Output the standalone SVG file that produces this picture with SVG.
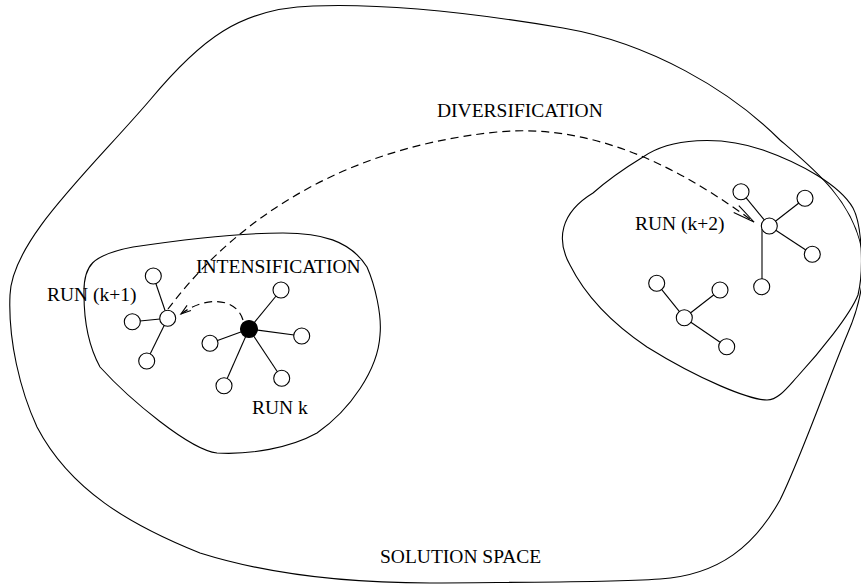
<svg xmlns="http://www.w3.org/2000/svg" width="861" height="584" viewBox="0 0 861 584">
  <style>
    .region { fill: none; stroke: #000; stroke-width: 1.1; }
    .edge { stroke: #000; stroke-width: 1.1; fill: none; }
    .jump { stroke: #000; stroke-width: 1.2; fill: none; stroke-dasharray: 8 5; }
    .pt { fill: #fff; stroke: #000; stroke-width: 1.1; }
    .pt.cur { fill: #000; }
    .lbl { font-family: "Liberation Serif", "Times New Roman", serif; font-size: 19.5px; fill: #000; }
  </style>
  <defs>
    <marker id="headSmall" viewBox="-12 -5 14 10" markerWidth="14" markerHeight="10" refX="0" refY="0" orient="auto" markerUnits="userSpaceOnUse" overflow="visible">
      <path d="M-10,-3.2 L0,0 L-10,3.2" fill="none" stroke="#000" stroke-width="1.1" stroke-dasharray="none"/>
    </marker>
    <marker id="headLarge" viewBox="-24 -6 26 12" markerWidth="26" markerHeight="12" refX="0" refY="0" orient="auto" markerUnits="userSpaceOnUse" overflow="visible">
      <path d="M-22,-4.3 L0,0 L-22,4.3" fill="none" stroke="#000" stroke-width="1.1" stroke-dasharray="none"/>
    </marker>
  </defs>
  <rect width="861" height="584" fill="#fff"/>

  <!-- search space boundary and neighbourhoods -->
  <g id="solution-space">
    <path class="region" d="M313,6 C390,3 480,14 563,28 C650,43 730,90 780,140 C815,170 852,200 862,250 C866,280 858,310 847,335 C830,375 800,460 780,500 C755,545 720,575 660,579 C600,583 500,582 430,583 C350,583 270,575 200,553 C130,525 70,490 37,427 C20,390 8,340 10,295 C12,240 90,170 150,100 C200,40 240,8 313,6 Z"/>
  </g>
  <g id="region-left">
    <path class="region" d="M84,295 C83,265 92,255 133,247 C180,240 240,233 283,233 C320,233 350,240 367,267 C375,285 382,315 380,335 C378,370 350,410 317,433 C290,448 250,455 217,453 C190,450 130,400 100,367 C88,345 84,320 84,295 Z"/>
  </g>
  <g id="region-right">
    <path class="region" d="M643,157 C670,138 720,135 763,150 C800,163 840,185 853,208 C862,225 864,270 858,295 C850,315 820,352 797,377 C787,388 778,400 767,400 C750,400 700,380 647,347 C610,322 585,295 570,265 C556,240 560,213 593,193 C610,178 625,168 643,157 Z"/>
  </g>

  <!-- tree edges and moves between runs -->
  <g id="connectors">
    <line class="edge" x1="167.7" y1="318.3" x2="153.3" y2="276"/>
    <line class="edge" x1="167.7" y1="318.3" x2="132.3" y2="321.7"/>
    <line class="edge" x1="167.7" y1="318.3" x2="146.7" y2="361"/>

    <line class="edge" x1="249" y1="329" x2="281" y2="290"/>
    <line class="edge" x1="249" y1="329" x2="301.7" y2="336"/>
    <line class="edge" x1="249" y1="329" x2="210" y2="343.3"/>
    <line class="edge" x1="249" y1="329" x2="224" y2="385.7"/>
    <line class="edge" x1="249" y1="329" x2="281.7" y2="378.3"/>

    <line class="edge" x1="769.3" y1="226" x2="741" y2="191.7"/>
    <line class="edge" x1="769.3" y1="226" x2="805" y2="198.3"/>
    <line class="edge" x1="769.3" y1="226" x2="812.3" y2="254.3"/>
    <line class="edge" x1="762" y1="229" x2="762" y2="279"/>

    <line class="edge" x1="684.3" y1="317.7" x2="656.7" y2="283.3"/>
    <line class="edge" x1="684.3" y1="317.7" x2="720" y2="290"/>
    <line class="edge" x1="684.3" y1="317.7" x2="726.7" y2="346.7"/>

    <path class="jump" d="M168,309 C220,240 320,150 497,132 C600,122 690,175 754,222" marker-end="url(#headLarge)"/>
    <path class="jump" d="M243,320 C236,297 205,296 181,314" marker-end="url(#headSmall)"/>
  </g>

  <!-- run k+1 -->
  <g id="run-k1">
    <circle class="pt" cx="167.7" cy="318.3" r="8"/>
    <circle class="pt" cx="153.3" cy="276" r="8"/>
    <circle class="pt" cx="132.3" cy="321.7" r="8"/>
    <circle class="pt" cx="146.7" cy="361" r="8"/>
  </g>
  <!-- run k -->
  <g id="run-k">
    <circle class="pt" cx="281" cy="290" r="8"/>
    <circle class="pt" cx="301.7" cy="336" r="8"/>
    <circle class="pt" cx="210" cy="343.3" r="8"/>
    <circle class="pt" cx="224" cy="385.7" r="8"/>
    <circle class="pt" cx="281.7" cy="378.3" r="8"/>
    <circle class="pt cur" cx="249" cy="329" r="8.5"/>
  </g>
  <!-- run k+2 -->
  <g id="run-k2">
    <circle class="pt" cx="769.3" cy="226" r="8"/>
    <circle class="pt" cx="741" cy="191.7" r="8"/>
    <circle class="pt" cx="805" cy="198.3" r="8"/>
    <circle class="pt" cx="812.3" cy="254.3" r="8"/>
    <circle class="pt" cx="761.7" cy="286.7" r="8"/>
  </g>
  <!-- second tree in the right neighbourhood -->
  <g id="tree-right">
    <circle class="pt" cx="684.3" cy="317.7" r="8"/>
    <circle class="pt" cx="656.7" cy="283.3" r="8"/>
    <circle class="pt" cx="720" cy="290" r="8"/>
    <circle class="pt" cx="726.7" cy="346.7" r="8"/>
  </g>

  <g id="labels">
    <text class="lbl" x="437" y="117">DIVERSIFICATION</text>
    <text class="lbl" x="196" y="273">INTENSIFICATION</text>
    <text class="lbl" x="47" y="301">RUN (k+1)</text>
    <text class="lbl" x="252" y="414">RUN k</text>
    <text class="lbl" x="635" y="230">RUN (k+2)</text>
    <text class="lbl" x="380" y="563">SOLUTION SPACE</text>
  </g>
</svg>
